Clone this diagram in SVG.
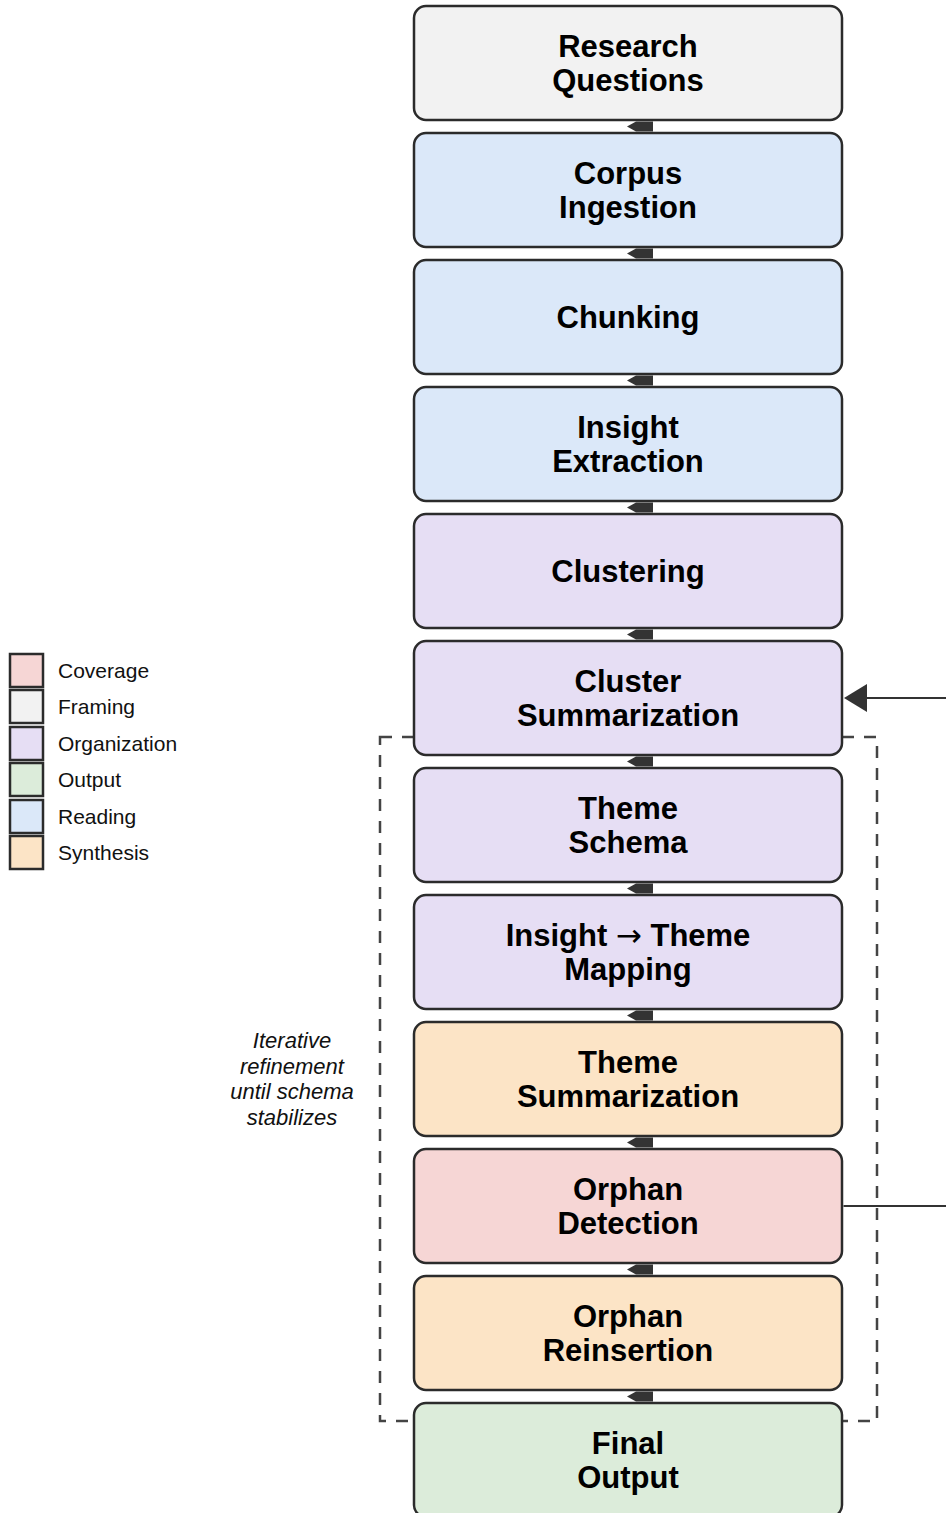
<svg xmlns="http://www.w3.org/2000/svg" width="946" height="1513" viewBox="0 0 946 1513">
<style>
.node{stroke:#2b2b2b;stroke-width:2.5}
.lbl{font-family:"Liberation Sans",Arial,sans-serif;font-weight:bold;font-size:31px;fill:#000;text-anchor:middle}
.arr{font-family:"DejaVu Sans",sans-serif;font-weight:normal}
.leg{font-family:"Liberation Sans",Arial,sans-serif;font-size:21px;fill:#111}
.note{font-family:"Liberation Sans",Arial,sans-serif;font-style:italic;font-size:22px;fill:#111;text-anchor:middle}
.sw{stroke:#2b2b2b;stroke-width:2.5}
.framing{fill:#f2f2f2}.reading{fill:#dbe8f9}.org{fill:#e6def4}.synth{fill:#fce4c6}.cov{fill:#f6d6d5}.out{fill:#dcecda}
.conn{fill:#333}
</style>
<g id="group-iterative">
<rect x="380" y="737" width="497" height="684" fill="none" stroke="#444" stroke-width="2.5" stroke-dasharray="12,10"/>
<text class="note" x="292" y="1048">Iterative</text>
<text class="note" x="292" y="1074">refinement</text>
<text class="note" x="292" y="1099">until schema</text>
<text class="note" x="292" y="1125">stabilizes</text>
</g>
<g id="legend">
<rect class="sw cov" x="10" y="654" width="33" height="33"/><text class="leg" x="58" y="678">Coverage</text>
<rect class="sw framing" x="10" y="690" width="33" height="33"/><text class="leg" x="58" y="714">Framing</text>
<rect class="sw org" x="10" y="727" width="33" height="33"/><text class="leg" x="58" y="751">Organization</text>
<rect class="sw out" x="10" y="763" width="33" height="33"/><text class="leg" x="58" y="787">Output</text>
<rect class="sw reading" x="10" y="800" width="33" height="33"/><text class="leg" x="58" y="824">Reading</text>
<rect class="sw synth" x="10" y="836" width="33" height="33"/><text class="leg" x="58" y="860">Synthesis</text>
</g>
<g id="n1"><rect class="node framing" x="414" y="6" width="428" height="114" rx="12"/><text class="lbl" x="628" y="57">Research</text><text class="lbl" x="628" y="91">Questions</text></g>
<g id="n2"><rect class="node reading" x="414" y="133" width="428" height="114" rx="12"/><text class="lbl" x="628" y="184">Corpus</text><text class="lbl" x="628" y="218">Ingestion</text></g>
<g id="n3"><rect class="node reading" x="414" y="260" width="428" height="114" rx="12"/><text class="lbl" x="628" y="328">Chunking</text></g>
<g id="n4"><rect class="node reading" x="414" y="387" width="428" height="114" rx="12"/><text class="lbl" x="628" y="438">Insight</text><text class="lbl" x="628" y="472">Extraction</text></g>
<g id="n5"><rect class="node org" x="414" y="514" width="428" height="114" rx="12"/><text class="lbl" x="628" y="582">Clustering</text></g>
<g id="n6"><rect class="node org" x="414" y="641" width="428" height="114" rx="12"/><text class="lbl" x="628" y="692">Cluster</text><text class="lbl" x="628" y="726">Summarization</text></g>
<g id="n7"><rect class="node org" x="414" y="768" width="428" height="114" rx="12"/><text class="lbl" x="628" y="819">Theme</text><text class="lbl" x="628" y="853">Schema</text></g>
<g id="n8"><rect class="node org" x="414" y="895" width="428" height="114" rx="12"/><text class="lbl" x="628" y="946">Insight <tspan class="arr">→</tspan> Theme</text><text class="lbl" x="628" y="980">Mapping</text></g>
<g id="n9"><rect class="node synth" x="414" y="1022" width="428" height="114" rx="12"/><text class="lbl" x="628" y="1073">Theme</text><text class="lbl" x="628" y="1107">Summarization</text></g>
<g id="n10"><rect class="node cov" x="414" y="1149" width="428" height="114" rx="12"/><text class="lbl" x="628" y="1200">Orphan</text><text class="lbl" x="628" y="1234">Detection</text></g>
<g id="n11"><rect class="node synth" x="414" y="1276" width="428" height="114" rx="12"/><text class="lbl" x="628" y="1327">Orphan</text><text class="lbl" x="628" y="1361">Reinsertion</text></g>
<g id="n12"><rect class="node out" x="414" y="1403" width="428" height="114" rx="12"/><text class="lbl" x="628" y="1454">Final</text><text class="lbl" x="628" y="1488">Output</text></g>
<g id="connectors">
<path class="conn" d="M653,121.5 L636,121.5 L627,126.5 L636,131.5 L653,131.5 Z"/>
<path class="conn" d="M653,248.5 L636,248.5 L627,253.5 L636,258.5 L653,258.5 Z"/>
<path class="conn" d="M653,375.5 L636,375.5 L627,380.5 L636,385.5 L653,385.5 Z"/>
<path class="conn" d="M653,502.5 L636,502.5 L627,507.5 L636,512.5 L653,512.5 Z"/>
<path class="conn" d="M653,629.5 L636,629.5 L627,634.5 L636,639.5 L653,639.5 Z"/>
<path class="conn" d="M653,756.5 L636,756.5 L627,761.5 L636,766.5 L653,766.5 Z"/>
<path class="conn" d="M653,883.5 L636,883.5 L627,888.5 L636,893.5 L653,893.5 Z"/>
<path class="conn" d="M653,1010.5 L636,1010.5 L627,1015.5 L636,1020.5 L653,1020.5 Z"/>
<path class="conn" d="M653,1137.5 L636,1137.5 L627,1142.5 L636,1147.5 L653,1147.5 Z"/>
<path class="conn" d="M653,1264.5 L636,1264.5 L627,1269.5 L636,1274.5 L653,1274.5 Z"/>
<path class="conn" d="M653,1391.5 L636,1391.5 L627,1396.5 L636,1401.5 L653,1401.5 Z"/>
<path d="M843.5,1206 L946,1206" stroke="#333" stroke-width="2.2" fill="none"/>
<path d="M866,698 L946,698" stroke="#333" stroke-width="2.2" fill="none"/>
<path class="conn" d="M844,698 L867,684 L867,712 Z"/>
</g>
</svg>
